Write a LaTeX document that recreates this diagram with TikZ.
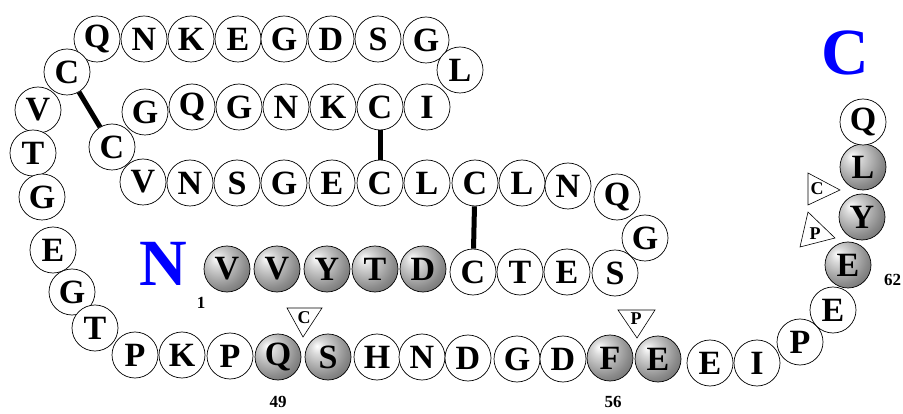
\documentclass[tikz,border=0pt]{standalone}
\usepackage{fontspec}
\setmainfont{Liberation Serif}
\pgfdeclareradialshading{resball}{\pgfpoint{-12bp}{12bp}}{%
  color(0bp)=(white);
  color(8bp)=(white!85!black);
  color(28bp)=(white!55!black);
  color(48bp)=(white!30!black);
  color(62bp)=(white!22!black);
  color(80bp)=(white!20!black)}
\begin{document}
\begin{tikzpicture}[x=1pt,y=-1pt,
  res/.style={circle, draw, line width=0.7pt, minimum size=46pt, inner sep=0pt, fill=white,
    font=\fontsize{34}{34}\selectfont\bfseries},
  sres/.style={res, shading=resball},
  bond/.style={line width=5pt},
  tri/.style={draw, line width=0.6pt, fill=white},
  tlab/.style={inner sep=0pt, font=\fontsize{18}{18}\selectfont\bfseries},
  num/.style={inner sep=0pt, font=\fontsize{17}{17}\selectfont\bfseries},
  term/.style={inner sep=0pt, text=blue, font=\fontsize{66}{66}\selectfont\bfseries}]
\useasboundingbox (0,0) rectangle (903,414);
\fill[white] (0,0) rectangle (903,414);
% top row
\node[res] (r01) at (97,39) {Q};
\node[res] (r02) at (144,39) {N};
\node[res] (r03) at (191,39) {K};
\node[res] (r04) at (238,39) {E};
\node[res] (r05) at (284,39) {G};
\node[res] (r06) at (331,39) {D};
\node[res] (r07) at (378,39) {S};
\node[res] (r08) at (426,40) {G};
\node[res] (r09) at (460,70) {L};
% second row
\node[res] (r10) at (427,107) {I};
\node[res] (r11) at (380,107) {C};
\node[res] (r12) at (333,107) {K};
\node[res] (r13) at (286,107) {N};
\node[res] (r14) at (239,107) {G};
\node[res] (r15) at (192,107) {Q};
\node[res] (r16) at (145,112) {G};
% left arc
\node[res] (l1) at (67,72) {C};
\node[res] (l2) at (38,110) {V};
\node[res] (l3) at (33,153) {T};
\node[res] (l4) at (42,197) {G};
\node[res] (l5) at (53,250) {E};
\node[res] (l6) at (72,292) {G};
\node[res] (l7) at (95,328) {T};
% inner
\node[res] (i1) at (112,147) {C};
\node[res] (i2) at (143,182) {V};
% third row
\node[res] (m01) at (190,183) {N};
\node[res] (m02) at (237,183) {S};
\node[res] (m03) at (284,183) {G};
\node[res] (m04) at (332,183) {E};
\node[res] (m05) at (380,183) {C};
\node[res] (m06) at (427,183) {L};
\node[res] (m07) at (475,183) {C};
\node[res] (m08) at (522,183) {L};
\node[res] (m09) at (568,186) {N};
\node[res] (m10) at (617,197) {Q};
\node[res] (m11) at (645,238) {G};
\node[res] (m12) at (615,273) {S};
\node[res] (m13) at (567,272) {E};
\node[res] (m14) at (520,272) {T};
\node[res] (m15) at (473,272) {C};
\node[sres] (s05) at (423,269) {D};
\node[sres] (s04) at (375,269) {T};
\node[sres] (s03) at (327,269) {Y};
\node[sres] (s02) at (277,269) {V};
\node[sres] (s01) at (227,269) {V};
% bottom row
\node[res] (b01) at (135,355) {P};
\node[res] (b02) at (182,355) {K};
\node[res] (b03) at (230,356) {P};
\node[sres] (b04) at (278,357) {Q};
\node[sres] (b05) at (328,357) {S};
\node[res] (b06) at (377,357) {H};
\node[res] (b07) at (422,357) {N};
\node[res] (b08) at (468,358) {D};
\node[res] (b09) at (517,359) {G};
\node[res] (b10) at (563,359) {D};
\node[sres] (b11) at (610,358) {F};
\node[sres] (b12) at (658,359) {E};
\node[res] (b13) at (710,363) {E};
\node[res] (b14) at (757,363) {I};
\node[res] (b15) at (800,342) {P};
\node[res] (b16) at (833,310) {E};
\node[sres] (c1) at (848,265) {E};
\node[sres] (c2) at (862,217) {Y};
\node[sres] (c3) at (863,167) {L};
\node[res] (c4) at (863,122) {Q};
% disulfide bonds
\draw[bond] (l1) -- (i1);
\draw[bond] (r11) -- (m05);
\draw[bond] (m07) -- (m15);
% modification triangles
\draw[tri] (287,308) -- (322,308) -- (303,337) -- cycle;
\node[tlab] (t1) at (304,318) {C};
\draw[tri] (618,310) -- (655,310) -- (637,338) -- cycle;
\node[tlab] (t2) at (636,319) {P};
\draw[tri] (808,173) -- (808,205) -- (840,190) -- cycle;
\node[tlab] (t3) at (817,189) {C};
\draw[tri] (808,212) -- (800,247) -- (835,238) -- cycle;
\node[tlab] (t4) at (815,234) {P};
% labels
\node[term] (nterm) at (163,264) {N};
\node[term] (cterm) at (845,53) {C};
\node[num] (n1) at (201,303) {1};
\node[num] (n49) at (278,402) {49};
\node[num] (n56) at (613,402) {56};
\node[num, anchor=west] (n62) at (884,280) {62};
\end{tikzpicture}
\end{document}
